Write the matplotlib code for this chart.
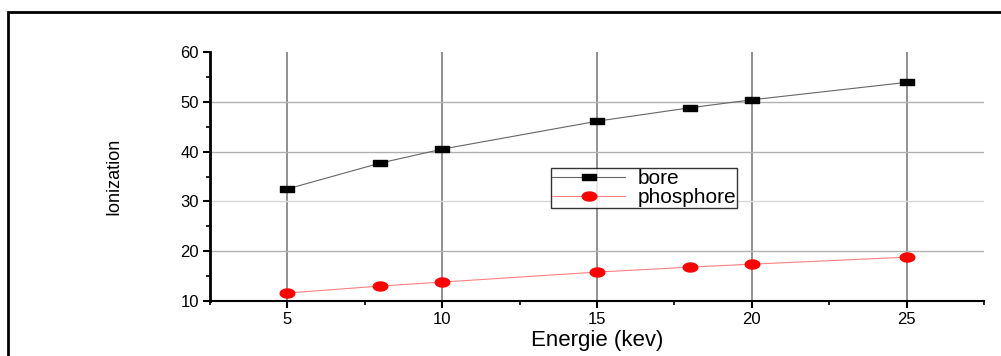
import numpy as np
import matplotlib
matplotlib.use("Agg")
import matplotlib.pyplot as plt
from matplotlib.path import Path
from matplotlib.patches import Rectangle
from matplotlib.ticker import MultipleLocator

plt.rcParams['font.family'] = ['Liberation Sans', 'DejaVu Sans']

# data
energy = [5, 8, 10, 15, 18, 20, 25]
bore = [32.5, 37.7, 40.5, 46.1, 48.8, 50.4, 53.9]
phosphore = [11.6, 13.0, 13.8, 15.8, 16.8, 17.4, 18.8]

# wide markers (the original picture is stretched horizontally)
rect = Path([(-1, -0.5), (1, -0.5), (1, 0.5), (-1, 0.5), (-1, -0.5)],
            [Path.MOVETO, Path.LINETO, Path.LINETO, Path.LINETO, Path.CLOSEPOLY])
t = np.linspace(0, 2 * np.pi, 40)
ellipse = Path(np.column_stack([np.cos(t), 0.62 * np.sin(t)]))

fig = plt.figure(figsize=(10.01, 3.56), dpi=100)
ax = fig.add_axes([210 / 1001, 1 - 301 / 356, 774 / 1001, 249 / 356])

# outer frame of the original figure
fig.patches.append(Rectangle((8 / 1001, -0.2), 1.2, 1 - 12 / 356 + 0.2,
                             transform=fig.transFigure, fill=False,
                             edgecolor='black', linewidth=2))

ax.plot(energy, bore, color='#666666', linewidth=0.8, marker=rect,
        markersize=10, markerfacecolor='black', markeredgecolor='black',
        label='bore', zorder=3)
ax.plot(energy, phosphore, color='#ff8080', linewidth=0.8, marker=ellipse,
        markersize=10.5, markerfacecolor='red', markeredgecolor='red',
        label='phosphore', zorder=3)

ax.set_xlim(2.5, 27.5)
ax.set_ylim(10, 60)
ax.xaxis.set_major_locator(MultipleLocator(5))
ax.xaxis.set_minor_locator(MultipleLocator(2.5))
ax.yaxis.set_major_locator(MultipleLocator(10))
ax.yaxis.set_minor_locator(MultipleLocator(5))

for s in ['top', 'right']:
    ax.spines[s].set_visible(False)
ax.spines['left'].set_linewidth(2)
ax.spines['bottom'].set_linewidth(1.5)

ax.tick_params(which='major', direction='out', length=5, width=1.5,
               labelsize=12, pad=3)
ax.tick_params(which='minor', direction='out', length=3, width=1.2)

ax.grid(axis='x', color='#888888', linewidth=1.3)
ax.grid(axis='y', color='#b0b0b0', linewidth=1.0)
ax.set_axisbelow(True)
ygl = ax.get_ygridlines()
for g, v in zip(ygl, ax.get_yticks()):
    if v >= 60 or v <= 10:
        g.set_visible(False)
    if v == 30:
        g.set_color('#d8d8d8')

ax.set_xlabel('Energie (kev)', fontsize=16, labelpad=2)
ax.set_ylabel('Ionization', fontsize=13, labelpad=42)

leg = ax.legend(loc='upper left', bbox_to_anchor=(13.52, 36.7),
                bbox_transform=ax.transData, fontsize=15, handlelength=3.5,
                frameon=True, fancybox=False, borderpad=0.05,
                labelspacing=0.0, borderaxespad=0, handletextpad=0.6)
leg.get_frame().set_edgecolor('black')
leg.get_frame().set_linewidth(1)

fig.savefig('out.png', dpi=100)
